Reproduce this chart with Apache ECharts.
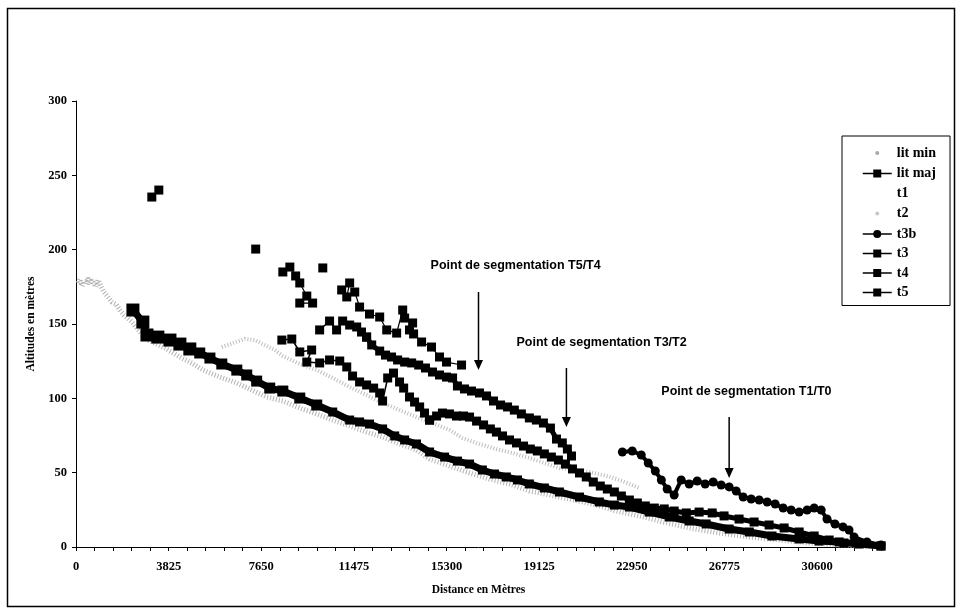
<!DOCTYPE html>
<html><head><meta charset="utf-8">
<script src="https://cdn.jsdelivr.net/npm/echarts@6/dist/echarts.min.js"></script>
<style>html,body{margin:0;padding:0;background:#fff}#c{width:963px;height:614px}</style>
</head><body><div id="c"></div>
<script>
// ---- data (distance in m, altitude in m) ----
const xInterval = 3825;
const xMax = 33240;
const yMax = 300;
const yInterval = 50;

const litMin = [[80,177.6],[160,180.3],[250,175.5],[330,178.9],[410,176.9],[490,180.9],[580,176.2],[660,179.6],[740,177.6],[820,174.9],[910,179.6],[990,176.9],[1070,178.2],[1150,171.5],[1320,168.2],[1480,164.8],[1650,163.4],[1810,159.4],[1980,156.0],[2140,154.0],[2310,151.3],[2470,148.0],[2680,143.9],[2930,139.2],[3260,137.2],[3670,133.8],[4290,127.8],[4780,123.8],[5240,119.0],[5940,114.3],[6640,110.3],[7260,105.6],[7880,100.9],[8540,98.2],[9240,93.5],[9940,89.5],[10600,85.4],[11300,81.4],[12000,77.3],[12660,74.0],[13360,69.3],[14060,65.2],[14600,59.2],[15420,54.5],[16250,49.8],[17070,45.7],[17900,42.4],[18720,37.7],[19550,35.0],[20580,31.6],[21490,28.2],[22310,24.2],[23260,20.9],[24080,17.5],[25320,12.8],[26560,9.4],[27800,6.7],[29030,4.7],[30270,2.7],[31510,1.3],[32750,0.3],[33240,0]];

const litMaj = [[2350,159.4],[2760,151.3],[2930,142.6],[3380,141.2],[3880,139.2],[4290,136.5],[4700,133.2],[5110,130.5],[5530,127.1],[6020,123.1],[6640,119.0],[7050,115.7],[7460,111.6],[8000,106.9],[8540,104.9],[9240,100.2],[9940,95.5],[10600,90.8],[11300,85.4],[11710,84.1],[12120,82.7],[12660,79.4],[13160,74.7],[13570,72.0],[14060,69.3],[14600,63.9],[15220,60.5],[15750,57.8],[16250,55.8],[16780,51.8],[17280,49.1],[17770,47.1],[18230,45.1],[18720,42.4],[19340,39.7],[19960,37.0],[20790,33.6],[21610,30.3],[22230,28.2],[22850,26.9],[23670,23.5],[24500,20.2],[25320,17.5],[26020,15.5],[26970,12.1],[27800,10.1],[28740,7.4],[29860,5.4],[30680,4.0],[31510,3.4],[32330,2.0],[33240,0.7]];

const t1 = [];

const t2 = [[6020,134.5],[6600,137.9],[6970,139.9],[7380,139.2],[7790,135.9],[8210,132.5],[8540,128.5],[9240,123.1],[9940,119.0],[10600,113.7],[11300,107.6],[12000,102.2],[12660,96.9],[13360,92.1],[14060,87.4],[14720,83.4],[15420,78.7],[15960,73.3],[16660,69.3],[17360,65.9],[18020,63.2],[18720,59.9],[19340,56.5],[19960,53.1],[20580,51.8],[21200,50.4],[21900,47.8],[22560,44.4],[23260,39.7]];

const t3b = [[22560,63.9],[22970,64.6],[23340,61.9],[23630,56.5],[23920,51.1],[24170,45.1],[24410,39.0],[24700,35.0],[24990,45.1],[25320,42.4],[25650,44.4],[25980,42.4],[26310,43.7],[26640,41.7],[26970,40.4],[27260,37.7],[27550,33.6],[27880,32.3],[28210,31.6],[28540,30.3],[28870,28.9],[29200,26.2],[29530,24.9],[29860,23.5],[30190,24.9],[30480,26.2],[30770,24.9],[31010,18.8],[31340,15.5],[31670,13.5],[31920,11.4],[32130,6.7],[32660,3.4],[33240,1.3]];

const t3 = [[8500,139.2],[8910,139.9],[9240,131.2],[9730,132.5],[9530,124.4],[10060,123.8],[10470,125.8],[10890,125.1],[11180,121.1],[11420,115.0],[11710,111.0],[12000,109.0],[12290,106.9],[12540,103.6],[12660,98.2],[12870,113.7],[13110,117.0],[13360,111.0],[13530,106.9],[13770,100.9],[13980,97.5],[14190,94.2],[14390,90.1],[14600,85.4],[14890,88.1],[15130,90.1],[15420,89.5],[15710,88.1],[16000,88.1],[16250,87.4],[16540,84.7],[16830,82.1],[17110,79.4],[17360,77.3],[17610,74.7],[17900,72.0],[18190,70.0],[18480,67.9],[18760,65.9],[19050,64.6],[19340,62.6],[19630,60.5],[19920,58.5],[20210,55.8],[20500,52.5],[20790,49.8],[21070,47.1],[21360,43.7],[21650,41.0],[21940,39.0],[22230,37.0],[22520,34.3],[22850,31.6],[23180,29.6],[23510,27.6],[23880,26.2],[24290,25.6],[24700,24.2],[25200,22.9],[25730,23.5],[26270,22.9],[26760,20.9],[27380,18.8],[28000,16.8],[28620,14.8],[29240,12.8],[29860,10.1],[30480,7.4],[31100,4.7],[31710,2.7],[33240,0.7]];

const t4 = [[10060,146.0],[10470,152.0],[10760,146.0],[11010,152.0],[11300,149.3],[11590,148.0],[11790,144.6],[12000,141.2],[12210,135.9],[12540,131.8],[12780,129.1],[13030,127.8],[13280,125.8],[13570,124.4],[13860,123.8],[14150,122.4],[14430,120.4],[14720,117.7],[15010,115.7],[15300,114.3],[15550,113.7],[15750,108.3],[16040,106.3],[16330,104.9],[16660,103.6],[16950,101.6],[17240,98.2],[17530,95.5],[17820,94.2],[18100,92.1],[18390,89.5],[18720,86.8],[19010,85.4],[19300,83.4],[19590,80.0],[19840,72.6],[20080,70.0],[20290,65.9],[20460,61.2]];

// t5 has gaps: each inner list is a connected run
const t5 = [
  [[3130,235.4],[3420,240.1]],
  [[7420,200.4]],
  [[8540,185.0],[8830,188.3],[9070,182.3],[9240,177.6],[9530,168.8],[9240,164.1],[9770,164.1]],
  [[10190,187.7]],
  [[10970,172.9],[11300,177.6],[11180,168.2],[11510,171.5],[11710,161.4],[12120,156.7],[12540,154.7],[12830,146.0],[13240,143.9],[13490,159.4],[13570,154.0],[13900,150.7],[13770,146.0],[13940,143.3],[14270,137.9],[14680,134.5],[15010,127.8],[15300,124.4],[15920,122.4]]
];

const legendNames = ['lit min','lit maj','t1','t2','t3b','t3','t4','t5'];

const annotations = [
  {text:'Point de segmentation T5/T4', textAt:[14640,189.0], arrowX:16620, arrowFrom:171.5, arrowTo:119.0},
  {text:'Point de segmentation T3/T2', textAt:[18190,137.2], arrowX:20250, arrowFrom:120.4, arrowTo:80.7},
  {text:'Point de segmentation T1/T0', textAt:[24170,104.3], arrowX:26970, arrowFrom:87.4, arrowTo:46.4}
];

// ---- chart ----
const serif = 'Liberation Serif';
const sans = 'Liberation Sans';
const chart = echarts.init(document.getElementById('c'), null, {renderer:'canvas'});

function blackLine(name, data, symbol, size, width, z) {
  return {name, type:'line', data, symbol, symbolSize:size, showSymbol:true, showAllSymbol:true,
    lineStyle:{color:'#000', width}, itemStyle:{color:'#000'}, z:z||2,
    silent:true, animation:false, emphasis:{disabled:true}};
}
// sparse (knotted) part drawn with thin connectors, dense part as a thick band
function splitAt(data, x) {
  return [data.filter(p => p[0] <= x), data.filter(p => p[0] >= x)];
}
const t3Parts = splitAt(t3, 14600);
const t4Parts = splitAt(t4, 12000);

const series = [
  {name:'lit min', type:'line', data:litMin, symbol:'none', z:1, silent:true, animation:false,
   lineStyle:{color:'#b2b2b2', width:5, type:[1,2]}, itemStyle:{color:'#c6c6c6'}},
  blackLine('lit maj', litMaj, 'rect', v => v[0] < 5000 ? 13 : (v[0] < 10000 ? 11 : 9), 7, 3),
  {name:'t1', type:'line', data:t1, symbol:'circle', symbolSize:6, lineStyle:{color:'#fff', width:1}, itemStyle:{color:'#fff'}, silent:true, animation:false},
  {name:'t2', type:'line', data:t2, symbol:'none', z:2, silent:true, animation:false,
   lineStyle:{color:'#bcbcbc', width:4, type:[1,2]}, itemStyle:{color:'#d6d6d6'}},
  blackLine('t3b', t3b, 'circle', 9, 4, 4),
  blackLine('t3', t3Parts[0], 'rect', 9, 1.5, 4),
  blackLine('t3', t3Parts[1], 'rect', 9, 5, 4),
  blackLine('t4', t4Parts[0], 'rect', 9, 1.5, 4),
  blackLine('t4', t4Parts[1], 'rect', 9, 5, 4)
].concat(t5.map(run => blackLine('t5', run, 'rect', 9, 1.2, 4)));

const dotIcon = c => ({icon:'circle', itemStyle:{color:c, borderColor:'#fff', borderWidth:6}});

const option = {
  backgroundColor:'#fff',
  animation:false,
  grid:{left:76, right:82, top:101, bottom:67, outerBoundsMode:'none', containLabel:false},
  xAxis:{type:'value', min:0, max:xMax, interval:xInterval,
    name:'Distance en Mètres', nameLocation:'middle', nameGap:37,
    nameTextStyle:{fontFamily:serif, fontWeight:'bold', fontSize:11.5, color:'#000'},
    axisLine:{show:true, onZero:false, lineStyle:{color:'#000', width:1}},
    axisTick:{show:true, inside:false, length:4, lineStyle:{color:'#000', width:1}},
    minorTick:{show:true, splitNumber:5, length:4, lineStyle:{color:'#000', width:1}},
    axisLabel:{fontFamily:serif, fontWeight:'bold', fontSize:12.5, color:'#000', margin:13,
      showMaxLabel:false, formatter: v => String(v)},
    splitLine:{show:false}, minorSplitLine:{show:false}},
  yAxis:{type:'value', min:0, max:yMax, interval:yInterval,
    name:'Altitudes en mètres', nameLocation:'middle', nameGap:37, nameRotate:90,
    nameTextStyle:{fontFamily:serif, fontWeight:'bold', fontSize:11.5, color:'#000'},
    axisLine:{show:true, lineStyle:{color:'#000', width:1}},
    axisTick:{show:true, inside:false, length:4, lineStyle:{color:'#000', width:1}},
    axisLabel:{fontFamily:serif, fontWeight:'bold', fontSize:12.5, color:'#000', margin:9},
    splitLine:{show:false}},
  legend:{orient:'vertical', left:842, top:136, padding:[9,14,6,20],
    itemWidth:29, itemHeight:10, itemGap:5.5, selectedMode:false,
    backgroundColor:'#fff', borderColor:'#000', borderWidth:1, borderRadius:0,
    textStyle:{fontFamily:serif, fontWeight:'bold', fontSize:14, color:'#000'},
    lineStyle:{width:1.5},
    data:legendNames.map(n => {
      if (n === 'lit min') return Object.assign({name:n}, dotIcon('#a8a8a8'));
      if (n === 't2') return Object.assign({name:n}, dotIcon('#c8c8c8'));
      return {name:n};
    })},
  series
};
chart.setOption(option);

// annotations and frame, positioned through the chart's own scales
const g = [{type:'rect', shape:{x:7.5, y:8.5, width:947, height:598}, style:{fill:'none', stroke:'#000', lineWidth:1.5}, silent:true, z:-10}];
annotations.forEach(a => {
  const tp = chart.convertToPixel({gridIndex:0}, a.textAt);
  const p1 = chart.convertToPixel({gridIndex:0}, [a.arrowX, a.arrowFrom]);
  const p2 = chart.convertToPixel({gridIndex:0}, [a.arrowX, a.arrowTo]);
  g.push({type:'text', x:tp[0], y:tp[1], silent:true, z:50,
    style:{text:a.text, fontFamily:sans, fontWeight:'bold', fontSize:12.5, fill:'#000', align:'left', verticalAlign:'middle'}});
  g.push({type:'line', silent:true, z:50, shape:{x1:p1[0], y1:p1[1], x2:p2[0], y2:p2[1]-9}, style:{stroke:'#000', lineWidth:1.5}});
  g.push({type:'polygon', silent:true, z:50, shape:{points:[[p2[0]-4.5,p2[1]-10],[p2[0]+4.5,p2[1]-10],[p2[0],p2[1]]]}, style:{fill:'#000'}});
});
chart.setOption({graphic:g});
</script>
</body></html>
